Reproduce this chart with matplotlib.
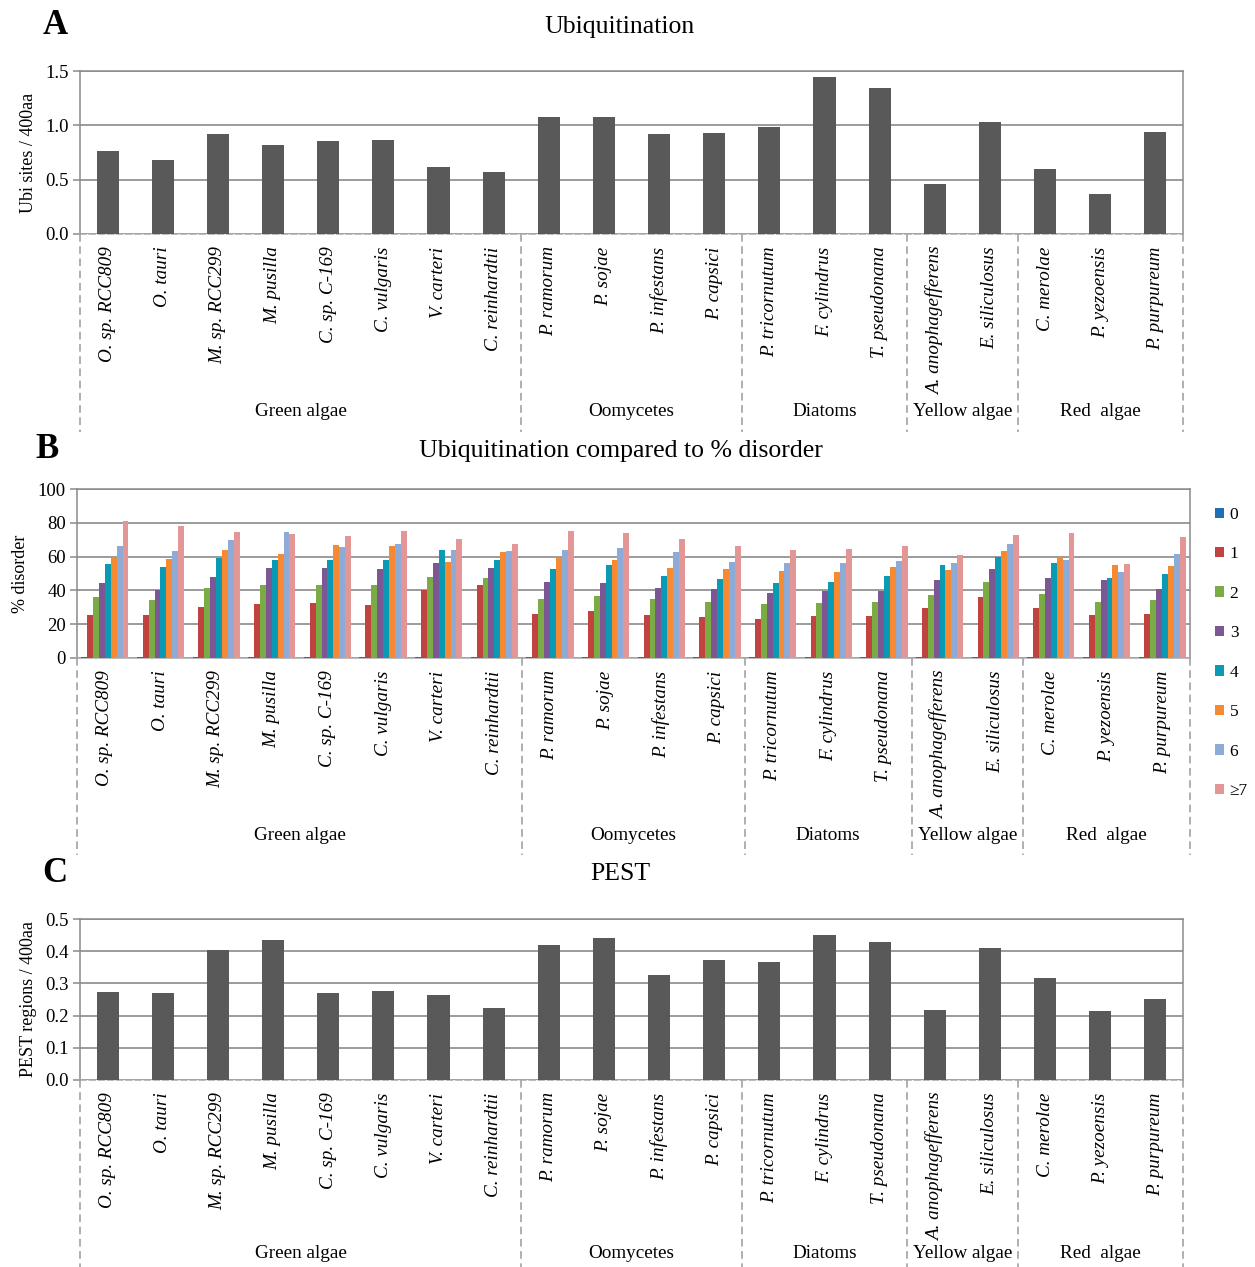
import numpy as np
import matplotlib
matplotlib.use("Agg")
import matplotlib.pyplot as plt
import matplotlib.transforms as mtransforms
from matplotlib.patches import Patch

plt.rcParams['font.family'] = ['Liberation Serif', 'DejaVu Serif']

species = ["O. sp. RCC809", "O. tauri", "M. sp. RCC299", "M. pusilla", "C. sp. C-169",
           "C. vulgaris", "V. carteri", "C. reinhardtii",
           "P. ramorum", "P. sojae", "P. infestans", "P. capsici",
           "P. tricornutum", "F. cylindrus", "T. pseudonana",
           "A. anophagefferens", "E. siliculosus",
           "C. merolae", "P. yezoensis", "P. purpureum"]
groups = ["Green algae", "Oomycetes", "Diatoms", "Yellow algae", "Red  algae"]
group_sizes = [8, 4, 3, 2, 3]

ubi_sites = [0.764, 0.684, 0.917, 0.819, 0.852, 0.868, 0.616, 0.570,
             1.076, 1.076, 0.920, 0.930,
             0.984, 1.444, 1.343,
             0.460, 1.030,
             0.598, 0.368, 0.938]

pest_regions = [0.273, 0.269, 0.403, 0.436, 0.269, 0.276, 0.264, 0.224,
                0.419, 0.441, 0.326, 0.373,
                0.366, 0.450, 0.428,
                0.217, 0.410,
                0.317, 0.214, 0.252]

site_classes = ["0", "1", "2", "3", "4", "5", "6", "\u22657"]
disorder_0 = [0.5] * 20
disorder_1 = [25.5, 25.3, 30.0, 32.0, 32.4, 31.4, 40.0, 43.1, 26.1, 27.8, 25.5, 24.5,
              23.3, 24.7, 25.1, 29.4, 36.1, 29.6, 25.5, 26.1]
disorder_2 = [35.9, 34.1, 41.4, 42.9, 43.1, 42.9, 48.2, 47.6, 35.1, 36.9, 34.9, 33.1,
              31.8, 32.5, 33.3, 37.1, 44.9, 37.6, 32.9, 34.3]
disorder_3 = [44.5, 40.2, 47.8, 53.1, 53.3, 52.5, 56.1, 53.5, 44.9, 44.5, 41.2, 40.8,
              38.4, 39.8, 39.8, 46.0, 52.9, 47.1, 46.3, 40.8]
disorder_4 = [55.9, 53.7, 59.2, 58.2, 58.2, 57.8, 63.7, 57.8, 52.5, 55.1, 48.8, 46.5,
              44.3, 44.7, 48.4, 55.2, 59.6, 56.1, 47.5, 49.8]
disorder_5 = [59.2, 58.8, 63.7, 61.8, 67.1, 66.3, 56.7, 62.5, 59.4, 57.8, 53.1, 52.4,
              51.4, 51.0, 53.7, 52.2, 63.1, 59.0, 54.9, 54.5]
disorder_6 = [66.1, 63.5, 69.6, 74.5, 65.9, 67.3, 63.7, 63.1, 63.7, 65.1, 62.7, 57.1,
              56.1, 56.5, 57.3, 56.1, 67.6, 58.0, 51.0, 61.6]
disorder_7 = [80.8, 78.4, 74.5, 73.1, 72.0, 75.1, 70.6, 67.5, 75.3, 73.7, 70.6, 66.3,
              63.9, 64.5, 66.3, 61.2, 72.5, 73.9, 55.5, 71.4]
disorder = [disorder_0, disorder_1, disorder_2, disorder_3,
            disorder_4, disorder_5, disorder_6, disorder_7]
class_colors = ['#1f6fb2', '#c0433f', '#7aab45', '#7b5894',
                '#0a9ab3', '#f58a32', '#8eaad6', '#e39696']

W, H = 1255, 1267
fig = plt.figure(figsize=(W / 100, H / 100), dpi=100)


def box(l, t, r, b):
    return [l / W, 1 - b / H, (r - l) / W, (b - t) / H]


GRID = '#8a8a8a'
SEP = '#9a9a9a'
BAR = '#595959'
x = np.arange(len(species))


def style_axes(ax, dashed_bottom):
    ax.set_xlim(-0.5, len(species) - 0.5)
    ax.yaxis.grid(True, color=GRID, linewidth=1.2)
    ax.set_axisbelow(True)
    for s in ('left', 'top', 'right'):
        ax.spines[s].set_color(GRID)
        ax.spines[s].set_linewidth(1.1)
    ax.spines['bottom'].set_color('#a8a8a8')
    ax.spines['bottom'].set_linewidth(1.1)
    if dashed_bottom:
        ax.spines['bottom'].set_linestyle((0, (4, 2)))
    ax.tick_params(axis='y', length=5, width=1.1, color=GRID, labelsize=13.5, pad=3)
    ax.tick_params(axis='x', length=0, pad=9)
    ax.set_xticks(x)
    ax.set_xticklabels(species, rotation=90, fontstyle='italic', fontsize=13.8,
                       va='top', ha='center')


def draw_groups(ax, sep_bottom_px, label_px):
    tr = mtransforms.blended_transform_factory(ax.transData, fig.transFigure)
    ax_bottom = ax.get_position().y0
    edges = np.concatenate([[0], np.cumsum(group_sizes)]) - 0.5
    for e in edges:
        ax.plot([e, e], [ax_bottom, 1 - sep_bottom_px / H], transform=tr,
                color=SEP, linewidth=1.1, linestyle=(0, (5, 3)), clip_on=False)
    for g, a, b in zip(groups, edges[:-1], edges[1:]):
        ax.text((a + b) / 2, 1 - label_px / H, g, transform=tr, ha='center',
                va='center', fontsize=13.8)


# Panel A: ubiquitination sites
axA = fig.add_axes(box(80, 71, 1183, 234))
axA.bar(x, ubi_sites, width=0.4, color=BAR, zorder=3)
axA.set_ylim(0, 1.5)
axA.set_yticks([0, 0.5, 1.0, 1.5])
axA.set_yticklabels(["0.0", "0.5", "1.0", "1.5"])
style_axes(axA, True)
axA.set_ylabel("Ubi sites / 400aa", fontsize=13, labelpad=6)
draw_groups(axA, 432, 412)

# Panel B: disorder by number of ubiquitination sites
axB = fig.add_axes(box(77, 489, 1190, 658))
bw = 0.106
for i, (vals, col) in enumerate(zip(disorder, class_colors)):
    axB.bar(x + (i - 3.5) * bw, vals, width=bw, color=col, zorder=3,
            label=site_classes[i])
axB.set_ylim(0, 100)
axB.set_yticks(np.arange(0, 101, 20))
style_axes(axB, False)
axB.set_ylabel("% disorder", fontsize=13, labelpad=6)
draw_groups(axB, 855, 836)
handles = [Patch(facecolor=c, edgecolor='none') for c in class_colors]
fig.legend(handles, site_classes, loc='upper left',
           bbox_to_anchor=(1208 / W, 1 - 500 / H), frameon=False, fontsize=12.5,
           handlelength=0.55, handleheight=0.55, handletextpad=0.3,
           labelspacing=1.35, borderaxespad=0)

# Panel C: PEST regions
axC = fig.add_axes(box(80, 919, 1183, 1080))
axC.bar(x, pest_regions, width=0.4, color=BAR, zorder=3)
axC.set_ylim(0, 0.5)
axC.set_yticks(np.arange(0, 0.51, 0.1))
axC.set_yticklabels([f"{v:.1f}" for v in np.arange(0, 0.51, 0.1)])
style_axes(axC, True)
axC.set_ylabel("PEST regions / 400aa", fontsize=13, labelpad=6)
draw_groups(axC, 1267, 1254)

# Titles and panel letters
fig.text(620 / W, 1 - 27 / H, "Ubiquitination", ha='center', va='center', fontsize=18.5)
fig.text(621 / W, 1 - 451 / H, "Ubiquitination compared to % disorder",
         ha='center', va='center', fontsize=18.5)
fig.text(620 / W, 1 - 874 / H, "PEST", ha='center', va='center', fontsize=18.5)
for letter, px, py in (("A", 55, 25), ("B", 47, 450), ("C", 55, 873)):
    fig.text(px / W, 1 - py / H, letter, ha='center', va='center',
             fontsize=25, fontweight='bold')

fig.savefig("out.png", dpi=100)
